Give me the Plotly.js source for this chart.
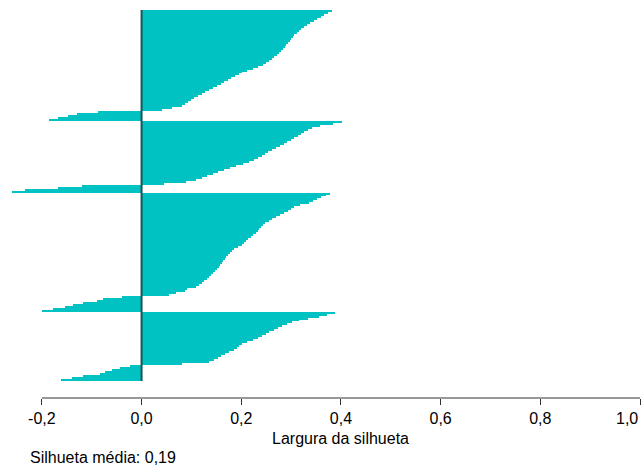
<!DOCTYPE html>
<html>
<head>
<meta charset="utf-8">
<script src="https://cdn.plot.ly/plotly-3.0.1.min.js"></script>
<style>html,body{margin:0;padding:0;background:#fff;}#chart{width:642px;height:470px;}</style>
</head>
<body>
<div id="chart"></div>
<script>
// Silhouette widths per cluster, sorted descending within each cluster
const cluster1 = [0.382,0.375,0.366,0.360,0.352,0.345,0.338,0.332,0.326,0.320,0.316,0.312,0.306,0.303,0.300,0.297,0.293,0.290,0.287,0.284,0.280,0.276,0.271,0.266,0.261,0.255,0.249,0.243,0.234,0.224,0.212,0.202,0.195,0.187,0.180,0.173,0.166,0.159,0.151,0.144,0.136,0.128,0.121,0.113,0.106,0.099,0.093,0.088,0.082,0.062,0.041,
  -0.088,-0.130,-0.148,-0.168,-0.186];
const cluster2 = [0.402,0.385,0.358,0.342,0.333,0.326,0.320,0.314,0.306,0.299,0.292,0.285,0.277,0.270,0.262,0.254,0.247,0.242,0.234,0.225,0.216,0.203,0.190,0.178,0.165,0.154,0.143,0.131,0.121,0.110,0.090,0.045,
  -0.120,-0.168,-0.234,-0.260];
const cluster3 = [0.378,0.370,0.360,0.352,0.343,0.335,0.318,0.306,0.300,0.294,0.285,0.278,0.270,0.262,0.255,0.248,0.244,0.239,0.236,0.233,0.229,0.224,0.219,0.214,0.209,0.205,0.201,0.194,0.186,0.181,0.177,0.173,0.170,0.167,0.164,0.161,0.158,0.155,0.151,0.147,0.143,0.139,0.135,0.131,0.126,0.121,0.116,0.110,0.092,0.088,0.070,0.056,
  -0.040,-0.078,-0.090,-0.118,-0.138,-0.154,-0.178,-0.200];
const cluster4 = [0.388,0.372,0.356,0.334,0.316,0.302,0.292,0.282,0.274,0.266,0.256,0.249,0.242,0.234,0.224,0.212,0.202,0.196,0.191,0.185,0.176,0.168,0.160,0.153,0.145,0.136,0.082,
  -0.024,-0.044,-0.060,-0.074,-0.084,-0.118,-0.140,-0.162];

const tickValues = [-0.2, 0, 0.2, 0.4, 0.6, 0.8, 1.0];
const tickLabels = ["-0,2", "0,0", "0,2", "0,4", "0,6", "0,8", "1,0"];
const xTitle = "Largura da silhueta";
const meanLabel = "Silhueta média: 0,19";

const widths = [].concat(cluster1, cluster2, cluster3, cluster4);
const idx = widths.map((_, i) => i);
const n = widths.length;

const PLOT_TOP = 10, BAR_BOTTOM = 381, AXIS_Y = 398;
const pxPerBar = (BAR_BOTTOM - PLOT_TOP) / n;
const extra = (AXIS_Y - BAR_BOTTOM) / pxPerBar;
const plotH = AXIS_Y - PLOT_TOP;

const X_MIN = -0.27;           // room for the longest negative bar, left of the axis start
const AX_LO = tickValues[0], AX_HI = tickValues[tickValues.length - 1];

const FONT = "Liberation Sans, Arial, sans-serif";

// last tick label sits at the page edge: drawn right-aligned to its tick
const lastTick = tickValues.length - 1;
const axisTickText = tickLabels.map((t, i) => i === lastTick ? '' : t);

const trace = {
  type: 'bar',
  orientation: 'h',
  x: widths,
  y: idx,
  marker: {color: '#00C2C2', line: {width: 0}},
  hoverinfo: 'x'
};

const layout = {
  width: 642, height: 470,
  margin: {l: 7, r: 2, t: PLOT_TOP, b: 470 - AXIS_Y, pad: 0},
  paper_bgcolor: '#ffffff', plot_bgcolor: '#ffffff',
  bargap: 0,
  showlegend: false,
  font: {family: FONT, size: 16, color: '#000'},
  xaxis: {
    range: [X_MIN, AX_HI],
    tickvals: tickValues, ticktext: axisTickText,
    ticks: 'outside', ticklen: 6, tickwidth: 1, tickcolor: '#333',
    showline: false,
    showgrid: false, zeroline: false,
    tickfont: {family: FONT, size: 16, color: '#000'},
    fixedrange: true
  },
  yaxis: {
    range: [n - 0.5 + extra, -0.5],
    visible: false, showgrid: false, zeroline: false, fixedrange: true
  },
  shapes: [
    {type: 'line', xref: 'x', yref: 'y',
     x0: 0, x1: 0, y0: -0.5, y1: n - 0.5,
     line: {color: '#175656', width: 2}},
    {type: 'line', xref: 'x', yref: 'paper',
     x0: AX_LO, x1: AX_HI, y0: 0, y1: 0,
     line: {color: '#333', width: 1}}
  ],
  annotations: [
    {text: tickLabels[lastTick], xref: 'x', yref: 'paper', x: AX_HI, y: (AXIS_Y - 418) / plotH,
     xanchor: 'right', yanchor: 'middle', showarrow: false,
     font: {family: FONT, size: 16, color: '#000'}},
    {text: xTitle, xref: 'x', yref: 'paper', x: 0.4, y: (AXIS_Y - 438) / plotH,
     xanchor: 'center', yanchor: 'middle', showarrow: false,
     font: {family: FONT, size: 16, color: '#000'}},
    {text: meanLabel, xref: 'paper', yref: 'paper', x: 0, xshift: 21, y: (AXIS_Y - 458) / plotH,
     xanchor: 'left', yanchor: 'middle', showarrow: false,
     font: {family: FONT, size: 16, color: '#000'}}
  ]
};

Plotly.newPlot('chart', [trace], layout, {staticPlot: true, displayModeBar: false});
</script>
</body>
</html>
